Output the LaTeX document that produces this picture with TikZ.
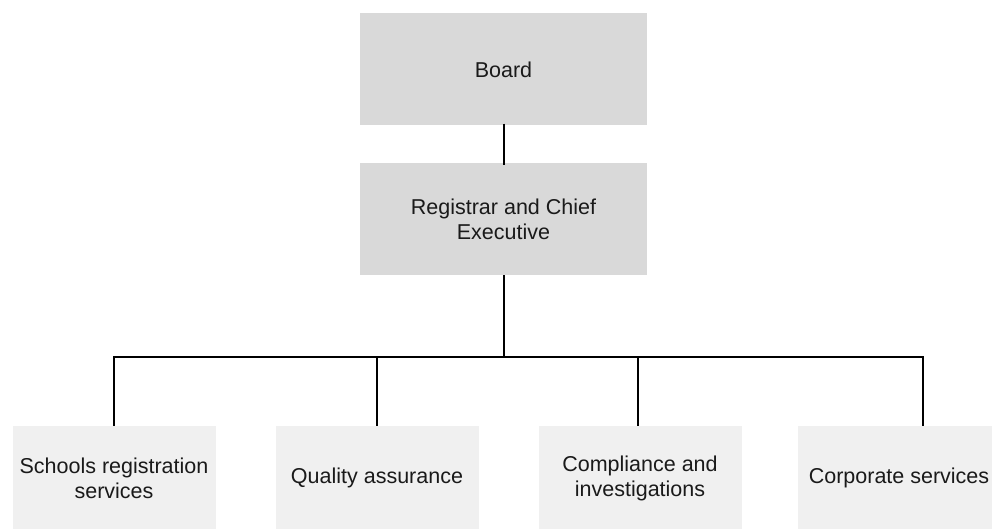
\documentclass[tikz,border=0pt]{standalone}
\usepackage{fontspec}
\setmainfont{Liberation Sans}
\definecolor{topgray}{HTML}{D9D9D9}
\definecolor{botgray}{HTML}{F0F0F0}
\definecolor{txt}{HTML}{1A1A1A}
\begin{document}
\begin{tikzpicture}[x=1pt,y=-1pt,
  every node/.style={font=\fontsize{21.5}{25}\selectfont, text=txt, align=center, inner sep=0pt},
  topbox/.style={fill=topgray, minimum width=287pt, minimum height=112pt},
  botbox/.style={fill=botgray, minimum width=203pt, minimum height=104pt},
  link/.style={draw=black, line width=1.4pt}]
\useasboundingbox[fill=white] (0,0) rectangle (992,529);
\node[topbox] (board) at (503.5,69.5) {Board};
\node[topbox] (reg) at (503.5,219) {Registrar and Chief\\Executive};
\node[botbox] (srs) at (114,478) {Schools registration\\services};
\node[botbox] (qa) at (377,478) {Quality assurance};
\node[botbox] (ci) at (640,478) {Compliance and\\investigations};
\node[botbox] (cs) at (899,478) {Corporate services};
\coordinate (hub) at (504,357);
\coordinate (cstop) at ([xshift=24pt]cs.north);
\coordinate (citop) at ([xshift=-2pt]ci.north);
\draw[link] ([yshift=2pt]board.south -| hub) -- ([yshift=-2pt]reg.north -| hub);
\draw[link] (reg.south -| hub) -- (hub);
\draw[link] (srs.north) -- (srs.north |- hub) -- (cstop |- hub) -- (cstop);
\draw[link] (qa.north) -- (qa.north |- hub);
\draw[link] (citop) -- (citop |- hub);
\end{tikzpicture}
\end{document}
